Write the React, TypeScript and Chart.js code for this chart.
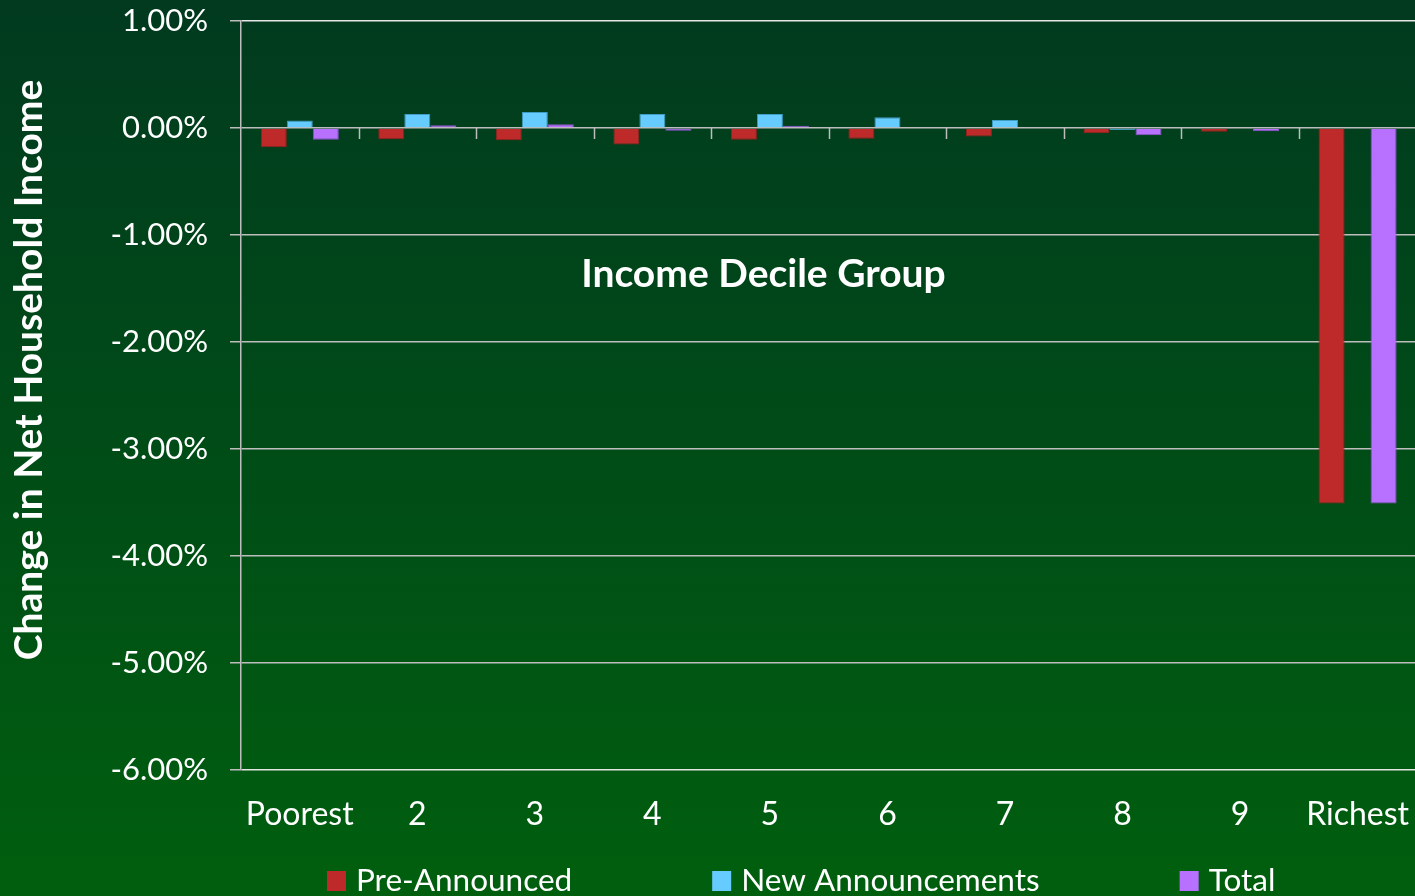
import React, { useEffect, useRef } from 'react';
import { Chart, registerables } from 'chart.js';

Chart.register(...registerables);

const categories = ['Poorest', '2', '3', '4', '5', '6', '7', '8', '9', 'Richest'];
const preAnnounced = [-0.18, -0.105, -0.115, -0.155, -0.11, -0.1, -0.08, -0.05, -0.035, -3.51];
const newAnnouncements = [0.07, 0.13, 0.15, 0.13, 0.13, 0.1, 0.075, -0.018, 0, 0];
const total = [-0.11, 0.025, 0.035, -0.025, 0.02, 0, 0, -0.068, -0.03, -3.51];
const seriesLabels = ['Pre-Announced', 'New Announcements', 'Total'];
const seriesColors = ['#BE2A2A', '#66CCFF', '#B870FF'];
const seriesBorders = ['#98201F', '#3F9CC4', '#8E55D0'];
const yMin = -6;
const yMax = 1;
const yStep = 1;
const xTitle = 'Income Decile Group';
const yTitle = 'Change in Net Household Income';

const FONT = 'Lato, "Open Sans", sans-serif';
const GRID = '#BDBDBD';

const decorPlugin = {
  id: 'decor',
  beforeDatasetsDraw(chart: any) {
    const { ctx, scales } = chart;
    const x = scales.x;
    const y = scales.y;
    const y0 = y.getPixelForValue(0);
    const half = (x.getPixelForValue(1) - x.getPixelForValue(0)) / 2;
    ctx.save();
    ctx.strokeStyle = GRID;
    ctx.lineWidth = 1.5;
    ctx.beginPath();
    for (let i = 0; i < categories.length; i++) {
      const px = Math.round(x.getPixelForValue(i) + half) + 0.5;
      ctx.moveTo(px, y0);
      ctx.lineTo(px, y0 + 11);
    }
    ctx.stroke();
    ctx.restore();
  },
  afterDraw(chart: any) {
    const { ctx, chartArea, scales } = chart;
    const w = chartArea.right - chartArea.left;
    ctx.save();
    ctx.fillStyle = '#FFFFFF';
    // inner x-axis title
    ctx.font = `bold 39px ${FONT}`;
    ctx.textAlign = 'center';
    ctx.textBaseline = 'alphabetic';
    ctx.fillText(xTitle, chartArea.left + 0.4445 * w, scales.y.getPixelForValue(-1.486));
    // y-axis title
    ctx.save();
    ctx.font = `bold 39px ${FONT}`;
    ctx.translate(42, 370);
    ctx.rotate(-Math.PI / 2);
    ctx.textAlign = 'center';
    ctx.fillText(yTitle, 0, 0);
    ctx.restore();
    // legend
    ctx.font = `31.5px ${FONT}`;
    ctx.textAlign = 'left';
    const boxW = 19;
    const boxH = 20;
    const gapBox = 10;
    const gapItem = 140;
    const widths = seriesLabels.map((l) => boxW + gapBox + ctx.measureText(l).width);
    const totalW = widths.reduce((a, b) => a + b, 0) + gapItem * (widths.length - 1);
    let lx = chartArea.left + 0.4766 * w - totalW / 2;
    const baseline = 891;
    seriesLabels.forEach((l, i) => {
      ctx.fillStyle = seriesColors[i];
      ctx.fillRect(lx, baseline - boxH, boxW, boxH);
      ctx.fillStyle = '#FFFFFF';
      ctx.fillText(l, lx + boxW + gapBox, baseline);
      lx += widths[i] + gapItem;
    });
    ctx.restore();
  },
};

export default function App() {
  const ref = useRef<HTMLCanvasElement>(null);
  useEffect(() => {
    if (!ref.current) return;
    const seriesData = [preAnnounced, newAnnouncements, total];
    const chart = new Chart(ref.current, {
      type: 'bar',
      data: {
        labels: categories,
        datasets: seriesLabels.map((label, i) => ({
          label,
          data: seriesData[i],
          backgroundColor: seriesColors[i],
          borderColor: seriesBorders[i],
          borderWidth: 1,
          categoryPercentage: 0.664,
          barPercentage: 1,
        })),
      },
      options: {
        animation: false,
        responsive: false,
        devicePixelRatio: 1,
        layout: { padding: { top: 21, right: 0, bottom: 66, left: 0 } },
        plugins: {
          legend: { display: false },
          tooltip: { enabled: false },
          title: { display: false },
        },
        scales: {
          x: {
            grid: { display: false, drawTicks: false },
            border: { display: false },
            ticks: {
              color: '#FFFFFF',
              font: { family: FONT, size: 32 },
              padding: 25,
              maxRotation: 0,
              autoSkip: false,
            },
            afterFit: (s: any) => {
              s.height = 60;
            },
          },
          y: {
            min: yMin,
            max: yMax,
            ticks: {
              stepSize: yStep,
              color: '#FFFFFF',
              font: { family: FONT, size: 31 },
              padding: 22,
              callback: (v: any) => Number(v).toFixed(2) + '%',
            },
            grid: {
              color: (c: any) =>
                c.tick && (c.tick.value === yMax || c.tick.value === yMin) ? '#E6E6E6' : GRID,
              lineWidth: 1.5,
              tickLength: 11,
              tickColor: GRID,
              drawTicks: true,
            },
            border: { color: GRID, width: 1.5 },
            afterFit: (s: any) => {
              s.width = 241;
              s.paddingTop = 0;
              s.paddingBottom = 0;
            },
          },
        },
      },
      plugins: [decorPlugin],
    });
    return () => chart.destroy();
  }, []);

  return (
    <div
      style={{
        position: 'fixed',
        left: 0,
        top: 0,
        width: 1415,
        height: 896,
        background: 'linear-gradient(to bottom, #013A1F 0%, #004C17 50%, #005F0E 100%)',
        overflow: 'hidden',
      }}
    >
      <canvas ref={ref} width={1434} height={896} style={{ display: 'block' }} />
    </div>
  );
}
